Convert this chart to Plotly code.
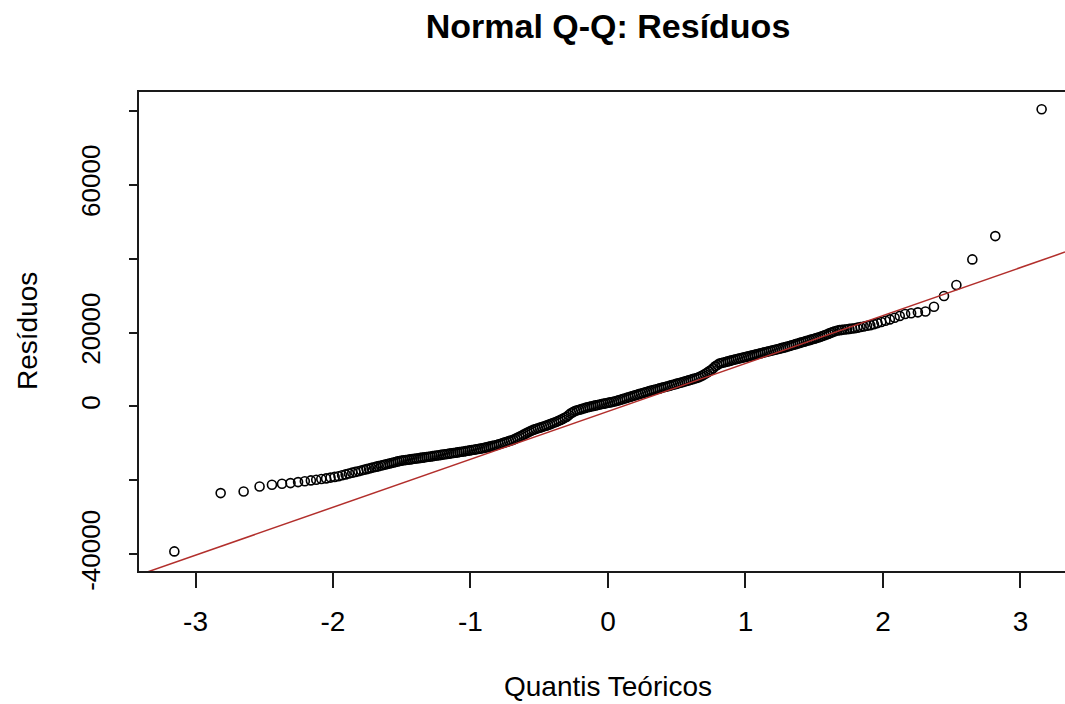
import plotly.graph_objects as go

# quantis teóricos (eixo x) e resíduos
cauda_esq_x = [-3.154, -2.817, -2.650, -2.534, -2.444, -2.371, -2.309, -2.254, -2.205, -2.161,
               -2.122, -2.085, -2.050, -2.018, -1.988, -1.960, -1.934, -1.908, -1.884, -1.860,
               -1.837, -1.815, -1.795, -1.775, -1.756, -1.738, -1.720, -1.702, -1.685, -1.669]
cauda_esq_y = [-39243, -23459, -23027, -21676, -21216, -20946, -20757, -20486, -20270, -20030,
               -19840, -19650, -19480, -19260, -19080, -18890, -18650, -18400, -18170, -17930,
               -17720, -17530, -17340, -17150, -16980, -16800, -16630, -16470, -16300, -16170]

centro_x = [-1.650, -1.635, -1.620, -1.605, -1.590, -1.575, -1.560, -1.545, -1.530, -1.515,
            -1.500, -1.485, -1.470, -1.455, -1.440, -1.425, -1.410, -1.395, -1.380, -1.365,
            -1.350, -1.335, -1.320, -1.305, -1.290, -1.275, -1.260, -1.245, -1.230, -1.215,
            -1.200, -1.185, -1.170, -1.155, -1.140, -1.125, -1.110, -1.095, -1.080, -1.065,
            -1.050, -1.035, -1.020, -1.005, -0.990, -0.975, -0.960, -0.945, -0.930, -0.915,
            -0.900, -0.885, -0.870, -0.855, -0.840, -0.825, -0.810, -0.795, -0.780, -0.765,
            -0.750, -0.735, -0.720, -0.705, -0.690, -0.675, -0.660, -0.645, -0.630, -0.615,
            -0.600, -0.585, -0.570, -0.555, -0.540, -0.525, -0.510, -0.495, -0.480, -0.465,
            -0.450, -0.435, -0.420, -0.405, -0.390, -0.375, -0.360, -0.345, -0.330, -0.315,
            -0.300, -0.285, -0.270, -0.255, -0.240, -0.225, -0.210, -0.195, -0.180, -0.165,
            -0.150, -0.135, -0.120, -0.105, -0.090, -0.075, -0.060, -0.045, -0.030, -0.015,
            0.000, 0.015, 0.030, 0.045, 0.060, 0.075, 0.090, 0.105, 0.120, 0.135,
            0.150, 0.165, 0.180, 0.195, 0.210, 0.225, 0.240, 0.255, 0.270, 0.285,
            0.300, 0.315, 0.330, 0.345, 0.360, 0.375, 0.390, 0.405, 0.420, 0.435,
            0.450, 0.465, 0.480, 0.495, 0.510, 0.525, 0.540, 0.555, 0.570, 0.585,
            0.600, 0.615, 0.630, 0.645, 0.660, 0.675, 0.690, 0.705, 0.720, 0.735,
            0.750, 0.765, 0.780, 0.795, 0.810, 0.825, 0.840, 0.855, 0.870, 0.885,
            0.900, 0.915, 0.930, 0.945, 0.960, 0.975, 0.990, 1.005, 1.020, 1.035,
            1.050, 1.065, 1.080, 1.095, 1.110, 1.125, 1.140, 1.155, 1.170, 1.185,
            1.200, 1.215, 1.230, 1.245, 1.260, 1.275, 1.290, 1.305, 1.320, 1.335,
            1.350, 1.365, 1.380, 1.395, 1.410, 1.425, 1.440, 1.455, 1.470, 1.485,
            1.500, 1.515, 1.530, 1.545, 1.560, 1.575, 1.590, 1.605, 1.620, 1.635,
            1.650]
centro_y = [-15993, -15855, -15717, -15578, -15440, -15301, -15163, -15025, -14887, -14774,
            -14661, -14581, -14501, -14421, -14341, -14261, -14181, -14101, -14021, -13941,
            -13861, -13781, -13701, -13620, -13540, -13455, -13371, -13286, -13202, -13117,
            -13033, -12948, -12864, -12779, -12695, -12610, -12526, -12441, -12357, -12271,
            -12185, -12090, -11996, -11901, -11807, -11712, -11618, -11523, -11429, -11323,
            -11218, -11087, -10956, -10825, -10694, -10562, -10431, -10260, -10090, -9915,
            -9741, -9566, -9392, -9213, -9035, -8757, -8480, -8202, -7925, -7647,
            -7369, -7091, -6814, -6552, -6291, -6110, -5930, -5749, -5568, -5387,
            -5207, -5002, -4797, -4586, -4375, -4144, -3914, -3650, -3386, -3089,
            -2792, -2330, -1867, -1552, -1238, -1071, -904, -737, -570, -407,
            -244, -116, 11, 139, 267, 395, 523, 635, 748, 860,
            972, 1083, 1195, 1324, 1453, 1623, 1794, 1964, 2134, 2304,
            2475, 2645, 2815, 2980, 3146, 3310, 3475, 3640, 3805, 3970,
            4134, 4284, 4434, 4581, 4728, 4875, 5023, 5170, 5317, 5470,
            5622, 5776, 5931, 6086, 6241, 6395, 6550, 6710, 6869, 7036,
            7203, 7370, 7538, 7705, 7873, 8156, 8440, 8773, 9106, 9481,
            9856, 10345, 10834, 11209, 11584, 11731, 11879, 12026, 12173, 12320,
            12468, 12612, 12756, 12887, 13019, 13151, 13283, 13415, 13547, 13680,
            13812, 13951, 14090, 14230, 14369, 14508, 14647, 14786, 14926, 15064,
            15203, 15341, 15480, 15619, 15758, 15896, 16035, 16195, 16356, 16520,
            16685, 16850, 17015, 17180, 17344, 17508, 17672, 17835, 17999, 18162,
            18326, 18490, 18653, 18847, 19041, 19255, 19470, 19684, 19898, 20112,
            20327]

cauda_dir_x = [1.669, 1.685, 1.702, 1.720, 1.738, 1.756, 1.775, 1.795, 1.815, 1.837,
               1.860, 1.884, 1.908, 1.934, 1.960, 1.988, 2.018, 2.050, 2.085, 2.122,
               2.161, 2.205, 2.254, 2.309, 2.371, 2.444, 2.534, 2.650, 2.817, 3.154]
cauda_dir_y = [20560, 20640, 20720, 20800, 20890, 20980, 21070, 21160, 21310, 21470,
               21640, 21810, 21990, 22260, 22540, 22830, 23170, 23540, 23990, 24490,
               25010, 25200, 25450, 25700, 26973, 29865, 32838, 39784, 46081, 80405]

# reta qqline
qq_intercepto = -1351
qq_inclinacao = 12970

x_ticks = [-3, -2, -1, 0, 1, 2, 3]
y_ticks = [-40000, -20000, 0, 20000, 40000, 60000, 80000]
y_ticks_texto = ["-40000", "", "0", "20000", "", "60000", ""]

x_range = [-3.411, 3.324]
y_range = [-44541, 85081]

fonte = "Liberation Sans, Arial, sans-serif"
cor_eixo = "#1a1a1a"

quantis = cauda_esq_x + centro_x + cauda_dir_x
residuos = cauda_esq_y + centro_y + cauda_dir_y

fig = go.Figure()

fig.add_trace(go.Scatter(
    x=quantis,
    y=residuos,
    mode="markers",
    marker=dict(symbol="circle-open", size=9, color="#000000",
                line=dict(color="#000000", width=1.6)),
    showlegend=False,
    hoverinfo="skip",
))

fig.add_trace(go.Scatter(
    x=x_range,
    y=[qq_intercepto + qq_inclinacao * v for v in x_range],
    mode="lines",
    line=dict(color="#b22f2c", width=1.5),
    showlegend=False,
    hoverinfo="skip",
))

fig.update_layout(
    width=1065,
    height=704,
    margin=dict(l=139, r=0, t=92, b=133),
    paper_bgcolor="white",
    plot_bgcolor="white",
    font=dict(family=fonte, color="#000000", size=28),
    title=dict(
        text="<b>Normal Q-Q: Resíduos</b>",
        font=dict(family=fonte, size=34, color="#000000"),
        xref="container", x=608 / 1065, xanchor="center",
        yref="container", y=1 - 26 / 704, yanchor="middle",
    ),
    xaxis=dict(
        range=x_range,
        tickvals=x_ticks,
        ticktext=[str(v) for v in x_ticks],
        ticks="outside", ticklen=15, tickwidth=1.6, tickcolor=cor_eixo,
        showline=True, linewidth=1.6, linecolor=cor_eixo, mirror=True,
        showgrid=False, zeroline=False,
        tickfont=dict(size=28),
        ticklabelstandoff=10,
    ),
    yaxis=dict(
        range=y_range,
        tickvals=y_ticks,
        ticktext=y_ticks_texto,
        tickangle=-90,
        ticks="outside", ticklen=8, tickwidth=1.6, tickcolor=cor_eixo,
        showline=True, linewidth=1.6, linecolor=cor_eixo, mirror=False,
        showgrid=False, zeroline=False,
        tickfont=dict(size=26),
        ticklabelstandoff=19,
    ),
    annotations=[
        dict(text="Quantis Teóricos", xref="paper", yref="paper",
             x=(608 - 139) / 926, y=(571 - 686) / 479,
             xanchor="center", yanchor="middle", showarrow=False,
             font=dict(size=28)),
        dict(text="Resíduos", xref="paper", yref="paper",
             x=(27 - 139) / 926, y=(571 - 331) / 479, textangle=-90,
             xanchor="center", yanchor="middle", showarrow=False,
             font=dict(size=28)),
    ],
)

# sem a margem padrão do <body>, a figura fica no canto da janela
fig.write_html("out.html", config={"displayModeBar": False},
               post_script="document.body.style.margin='0';")
